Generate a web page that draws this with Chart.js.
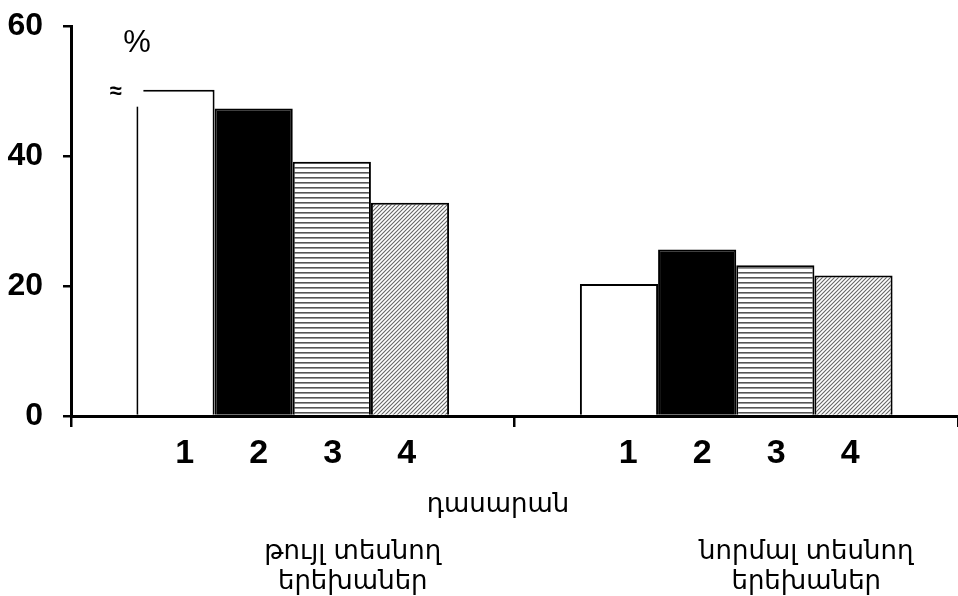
<!DOCTYPE html>
<html>
<head>
<meta charset="utf-8">
<script src="https://cdn.jsdelivr.net/npm/chart.js@4.4.1/dist/chart.umd.min.js"></script>
<style>
    html, body { margin: 0; padding: 0; background: #fff; }
</style>
</head>
<body>
<canvas id="chart" width="958" height="596"></canvas>
<script>
// groups of children (x categories)
const groups = [['թույլ տեսնող', 'երեխաներ'], ['նորմալ տեսնող', 'երեխաներ']];
// school grade (one series per grade)
const grades = ['1', '2', '3', '4'];
const grade1 = [50.2, 20.3];
const grade2 = [47.3, 25.6];
const grade3 = [39.1, 23.2];
const grade4 = [32.8, 21.6];
const yTicks = [0, 20, 40, 60];
const xTitle = 'դասարան';
const yUnit = '%';

const armFont = '"DejaVu Sans"';
const numFont = '"Liberation Sans", Arial';

function stripes() {
    const c = document.createElement('canvas');
    c.width = 8; c.height = 5;
    const g = c.getContext('2d');
    g.fillStyle = '#fff';
    g.fillRect(0, 0, 8, 5);
    g.fillStyle = '#555';
    g.fillRect(0, 2, 8, 1.6);
    return g.createPattern(c, 'repeat');
}

function hatch() {
    const c = document.createElement('canvas');
    c.width = 4; c.height = 4;
    const g = c.getContext('2d');
    g.fillStyle = '#fff';
    g.fillRect(0, 0, 4, 4);
    g.strokeStyle = '#666';
    g.lineWidth = 1.1;
    g.beginPath();
    g.moveTo(-1, 5); g.lineTo(5, -1);
    g.moveTo(-1, 1); g.lineTo(1, -1);
    g.moveTo(3, 5); g.lineTo(5, 3);
    g.stroke();
    return g.createPattern(c, 'repeat');
}

const fills = ['#fff', '#000', stripes(), hatch()];
const series = [grade1, grade2, grade3, grade4];

const annotations = {
    id: 'annotations',
    afterDatasetsDraw(chart) {
        const ctx = chart.ctx;
        // broken top-left corner of the first bar
        const bar = chart.getDatasetMeta(0).data[0];
        const left = bar.x - bar.width / 2;
        ctx.save();
        ctx.fillStyle = '#fff';
        ctx.fillRect(left - 1, bar.y - 1, 8, 18);
        ctx.fillStyle = '#000';
        ctx.font = 'bold 22px ' + numFont;
        ctx.textAlign = 'center';
        ctx.textBaseline = 'middle';
        ctx.fillText('≈', left - 21, bar.y + 2);
        ctx.restore();
    },
    afterDraw(chart) {
        const ctx = chart.ctx;
        const x = chart.scales.x;
        ctx.save();
        ctx.fillStyle = '#000';
        ctx.textAlign = 'center';
        ctx.textBaseline = 'middle';

        ctx.font = '31px ' + numFont;
        ctx.fillText(yUnit, 137, 43);

        // grade numbers under the bars
        ctx.font = 'bold 34px ' + numFont;
        groups.forEach((g, gi) => {
            const xs = series.map((s, si) => chart.getDatasetMeta(si).data[gi].x);
            const mid = (xs[0] + xs[xs.length - 1]) / 2 + 3;
            grades.forEach((lbl, k) => {
                ctx.fillText(lbl, mid + (k - 1.5) * 74, 454);
            });
        });

        ctx.font = '26px ' + armFont;
        ctx.fillText(xTitle, 498, 505);
        const offs = [60, 70];
        groups.forEach((g, gi) => {
            const cx = x.getPixelForValue(gi) + offs[gi];
            ctx.fillText(g[0], cx, 552);
            ctx.fillText(g[1], cx, 582);
        });
        ctx.restore();
    }
};

new Chart(document.getElementById('chart'), {
    type: 'bar',
    data: {
        labels: groups.map(g => g.join(' ')),
        datasets: series.map((s, i) => ({
            label: grades[i],
            data: s,
            backgroundColor: fills[i],
            borderColor: '#000',
            borderWidth: 2,
            barPercentage: 1,
            categoryPercentage: 0.705
        }))
    },
    options: {
        responsive: false,
        animation: false,
        devicePixelRatio: 1,
        layout: { padding: { top: 26, left: 0, right: 0, bottom: 0 } },
        plugins: { legend: { display: false }, tooltip: { enabled: false } },
        scales: {
            x: {
                ticks: { display: false },
                grid: { drawOnChartArea: false, tickLength: 11, color: '#000', lineWidth: 2.5, offset: true },
                border: { color: '#000', width: 3 },
                afterFit: s => { s.height = 180; s.paddingLeft = 0; s.paddingRight = 0; }
            },
            y: {
                min: 0,
                max: 60,
                afterBuildTicks: s => { s.ticks = yTicks.map(v => ({ value: v })); },
                ticks: { color: '#000', padding: 20, font: { family: numFont, weight: 'bold', size: 32 } },
                grid: { drawOnChartArea: false, tickLength: 8, color: '#000', lineWidth: 2.5 },
                border: { color: '#000', width: 3 },
                afterFit: s => { s.width = 71; s.paddingTop = 0; s.paddingBottom = 0; }
            }
        }
    },
    plugins: [annotations]
});
</script>
</body>
</html>
